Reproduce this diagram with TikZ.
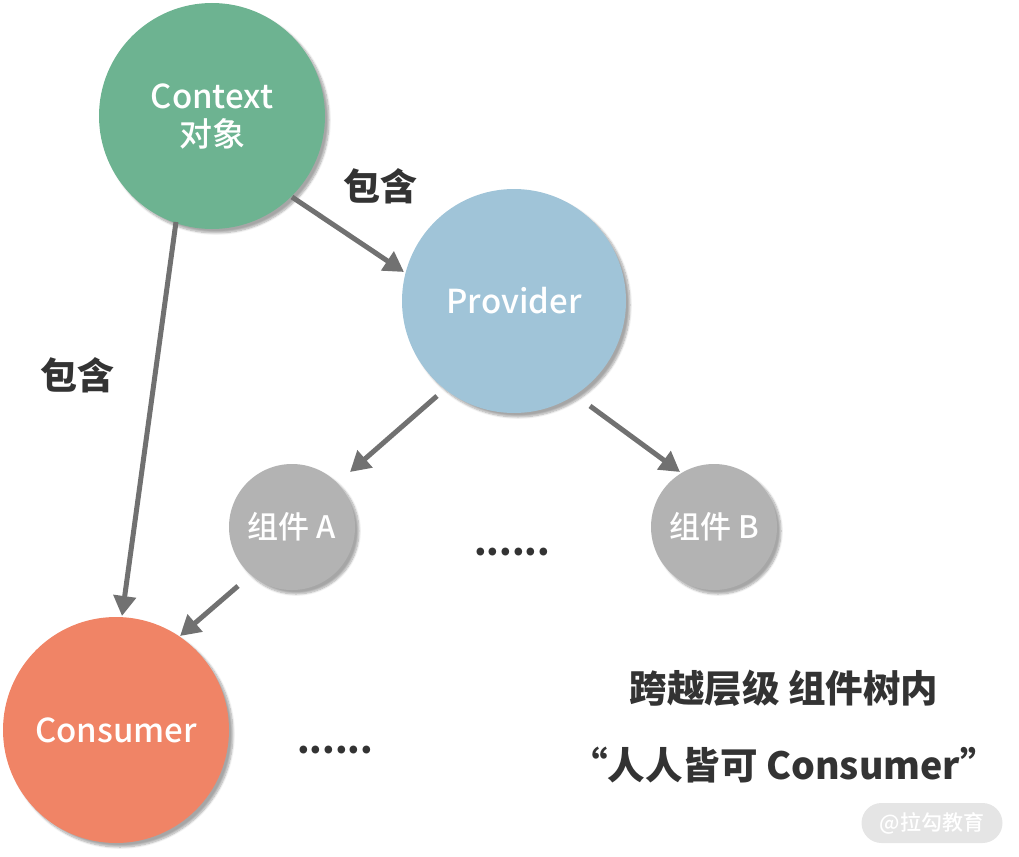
\documentclass[tikz,border=0pt]{standalone}
\usepackage{fontspec}
\setmainfont{Noto Sans CJK SC}
\newfontfamily\medf{Noto Sans CJK SC Medium}
\usetikzlibrary{shadows.blur,arrows.meta}
\definecolor{ctxc}{HTML}{6DB391}
\definecolor{provc}{HTML}{A0C4D8}
\definecolor{compc}{HTML}{B3B3B3}
\definecolor{consc}{HTML}{F08466}
\definecolor{arrc}{HTML}{717171}
\definecolor{txtc}{HTML}{333333}
\tikzset{
  ball/.style={circle, inner sep=0pt, text=white, align=center,
    blur shadow={shadow xshift=4pt, shadow yshift=-4pt, shadow blur steps=8, shadow opacity=35}},
  conn/.style={draw=arrc, line width=5pt, -{Triangle[length=20pt,width=22pt]}, shorten <=0pt},
  lbl/.style={text=txtc, font=\fontsize{37}{40}\selectfont\bfseries},
  big/.style={text=txtc, font=\fontsize{37.5}{42}\selectfont\bfseries},
  dots/.style={text=txtc, anchor=base, inner sep=0pt, font=\fontsize{36}{40}\selectfont\bfseries},
}
\begin{document}
\begin{tikzpicture}[x=1pt,y=-1pt]
\useasboundingbox (0,0) rectangle (1019,856);
\node[ball, fill=ctxc, minimum size=226pt, font=\medf\fontsize{33}{38}\selectfont] (ctx) at (212,116) {Context\\对象};
\node[ball, fill=provc, minimum size=224pt, font=\medf\fontsize{33}{38}\selectfont] (prov) at (514,301) {Provider};
\node[ball, fill=compc, minimum size=126pt, font=\medf\fontsize{31}{36}\selectfont] (ca) at (292,527) {组件 A};
\node[ball, fill=compc, minimum size=126pt, font=\medf\fontsize{31}{36}\selectfont] (cb) at (714,527) {组件 B};
\node[ball, fill=consc, minimum size=226pt, font=\medf\fontsize{33}{38}\selectfont] (cons) at (116,730) {Consumer};

\coordinate (s1) at (292,197); \coordinate (e1) at (404,272);
\coordinate (s2) at (176,222); \coordinate (e2) at (122,616);
\coordinate (s3) at (437,396); \coordinate (e3) at (350,472);
\coordinate (s4) at (590,406); \coordinate (e4) at (680,472);
\coordinate (s5) at (238,586); \coordinate (e5) at (180,636);
\draw[conn] (s1) -- (e1);
\draw[conn] (s2) -- (e2);
\draw[conn] (s3) -- (e3);
\draw[conn] (s4) -- (e4);
\draw[conn] (s5) -- (e5);

\node[lbl] (l1) at (380,186) {包含};
\node[lbl] (l2) at (77,375) {包含};
\node[dots] (d1) at (512,555) {......};
\node[dots] (d2) at (335,753) {......};
\node[big] (t1) at (784,688) {跨越层级 组件树内};
\node[big] (t2) at (784,765) {“人人皆可 Consumer”};
\node[fill=black!10, rounded corners=20pt, minimum width=141pt, minimum height=40pt, text=white, font=\medf\fontsize{21}{24}\selectfont] (wm) at (932,823) {@拉勾教育};
\end{tikzpicture}
\end{document}
